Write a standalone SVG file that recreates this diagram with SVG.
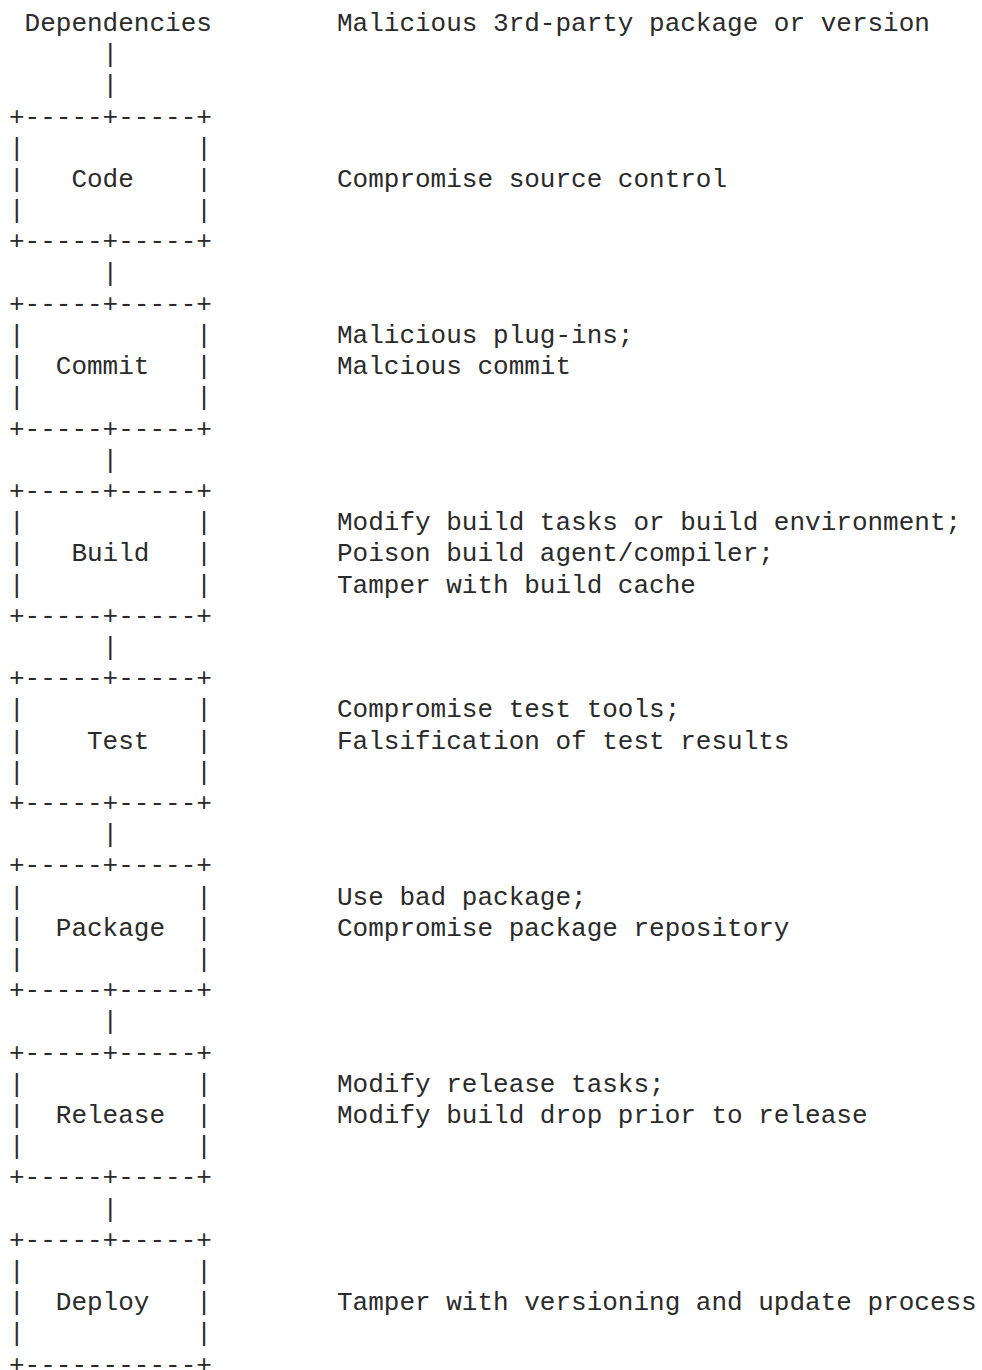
<svg xmlns="http://www.w3.org/2000/svg" width="982" height="1370" viewBox="0 0 982 1370">
<style>
text{font-family:"Liberation Mono","DejaVu Sans Mono",monospace;font-size:26px;fill:#2a2a2a;white-space:pre}
</style>
<rect width="982" height="1370" fill="#ffffff"/>
<g id="dependencies">
<text x="9" y="31"> Dependencies</text>
<text x="337" y="31">Malicious 3rd-party package or version</text>
</g>
<g id="connectors">
<text x="9" y="62.2">      |</text>
<text x="9" y="93.4">      |</text>
<text x="9" y="280.6">      |</text>
<text x="9" y="467.8">      |</text>
<text x="9" y="655">      |</text>
<text x="9" y="842.2">      |</text>
<text x="9" y="1029.4">      |</text>
<text x="9" y="1216.6">      |</text>
</g>
<g id="code">
<text x="9" y="124.6">+-----+-----+</text>
<text x="9" y="155.8">|           |</text>
<text x="9" y="187">|   Code    |</text>
<text x="9" y="218.2">|           |</text>
<text x="9" y="249.4">+-----+-----+</text>
<text x="337" y="187">Compromise source control</text>
</g>
<g id="commit">
<text x="9" y="311.8">+-----+-----+</text>
<text x="9" y="343">|           |</text>
<text x="9" y="374.2">|  Commit   |</text>
<text x="9" y="405.4">|           |</text>
<text x="9" y="436.6">+-----+-----+</text>
<text x="337" y="343">Malicious plug-ins;</text>
<text x="337" y="374.2">Malcious commit</text>
</g>
<g id="build">
<text x="9" y="499">+-----+-----+</text>
<text x="9" y="530.2">|           |</text>
<text x="9" y="561.4">|   Build   |</text>
<text x="9" y="592.6">|           |</text>
<text x="9" y="623.8">+-----+-----+</text>
<text x="337" y="530.2">Modify build tasks or build environment;</text>
<text x="337" y="561.4">Poison build agent/compiler;</text>
<text x="337" y="592.6">Tamper with build cache</text>
</g>
<g id="test">
<text x="9" y="686.2">+-----+-----+</text>
<text x="9" y="717.4">|           |</text>
<text x="9" y="748.6">|    Test   |</text>
<text x="9" y="779.8">|           |</text>
<text x="9" y="811">+-----+-----+</text>
<text x="337" y="717.4">Compromise test tools;</text>
<text x="337" y="748.6">Falsification of test results</text>
</g>
<g id="package">
<text x="9" y="873.4">+-----+-----+</text>
<text x="9" y="904.6">|           |</text>
<text x="9" y="935.8">|  Package  |</text>
<text x="9" y="967">|           |</text>
<text x="9" y="998.2">+-----+-----+</text>
<text x="337" y="904.6">Use bad package;</text>
<text x="337" y="935.8">Compromise package repository</text>
</g>
<g id="release">
<text x="9" y="1060.6">+-----+-----+</text>
<text x="9" y="1091.8">|           |</text>
<text x="9" y="1123">|  Release  |</text>
<text x="9" y="1154.2">|           |</text>
<text x="9" y="1185.4">+-----+-----+</text>
<text x="337" y="1091.8">Modify release tasks;</text>
<text x="337" y="1123">Modify build drop prior to release</text>
</g>
<g id="deploy">
<text x="9" y="1247.8">+-----+-----+</text>
<text x="9" y="1279">|           |</text>
<text x="9" y="1310.2">|  Deploy   |</text>
<text x="9" y="1341.4">|           |</text>
<text x="9" y="1372.6">+-----------+</text>
<text x="337" y="1310.2">Tamper with versioning and update process</text>
</g>
</svg>
